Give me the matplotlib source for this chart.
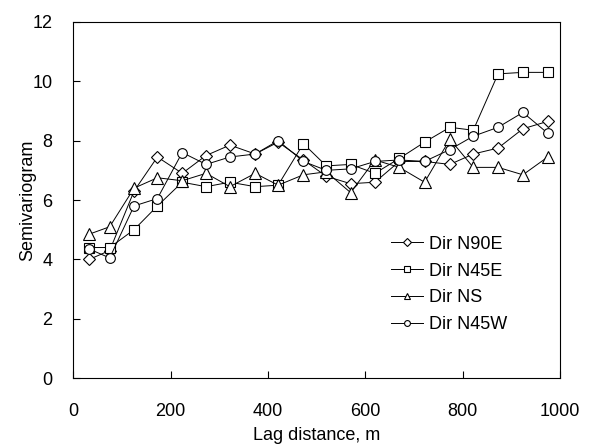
import matplotlib
matplotlib.use('Agg')
import matplotlib.pyplot as plt

# lag distances (m)
lag = [33, 75, 125, 173, 224, 273, 322, 374, 421, 473,
       520, 570, 620, 670, 722, 774, 822, 873, 924, 975]

# semivariogram values per direction
n90e = [4.0, 4.3, 6.3, 7.45, 6.9, 7.5, 7.85, 7.55, 7.95, 7.35,
        6.8, 6.55, 6.6, 7.3, 7.3, 7.2, 7.55, 7.75, 8.4, 8.65]
n45e = [4.4, 4.4, 5.0, 5.8, 6.6, 6.45, 6.6, 6.45, 6.5, 7.9,
        7.15, 7.2, 6.9, 7.4, 7.95, 8.45, 8.35, 10.25, 10.3, 10.3]
ns = [4.85, 5.1, 6.4, 6.75, 6.65, 6.9, 6.45, 6.9, 6.5, 6.85,
      6.95, 6.25, 7.35, 7.1, 6.6, 8.05, 7.1, 7.1, 6.85, 7.45]
n45w = [4.35, 4.05, 5.8, 6.05, 7.6, 7.2, 7.45, 7.55, 8.0, 7.3,
        7.0, 7.05, 7.3, 7.35, 7.3, 7.7, 8.15, 8.45, 8.95, 8.25]

labels = ['Dir N90E', 'Dir N45E', 'Dir NS', 'Dir N45W']
markers = ['D', 's', '^', 'o']
sizes = [6.5, 7.5, 8, 7]

plt.rcParams['font.family'] = ['Liberation Sans', 'DejaVu Sans']

fig = plt.figure(figsize=(5.95, 4.47), dpi=100)
ax = fig.add_axes([0.123, 0.154, 0.818, 0.797])

for y, lab, m, s in zip([n90e, n45e, ns, n45w], labels, markers, sizes):
    ax.plot(lag, y, color='black', linewidth=0.7, marker=m, markersize=s,
            markerfacecolor='white', markeredgecolor='black',
            markeredgewidth=0.8, label=lab)

ax.set_xlim(0, 1000)
ax.set_ylim(0, 12)
ax.set_xticks([0, 200, 400, 600, 800, 1000])
ax.set_yticks([0, 2, 4, 6, 8, 10, 12])
ax.tick_params(direction='in', length=5, width=0.8, labelsize=13)
ax.tick_params(axis='x', pad=18)
ax.tick_params(axis='y', pad=15)
for sp in ax.spines.values():
    sp.set_linewidth(0.8)

ax.set_xlabel('Lag distance, m', fontsize=13, labelpad=5)
ax.set_ylabel('Semivariogram', fontsize=13, labelpad=-3)

ax.legend(loc='lower right', bbox_to_anchor=(0.925, 0.08), frameon=False,
          fontsize=13, markerscale=0.6, handlelength=1.8, handletextpad=0.3,
          labelspacing=0.55)

fig.savefig('out.png', dpi=100)
